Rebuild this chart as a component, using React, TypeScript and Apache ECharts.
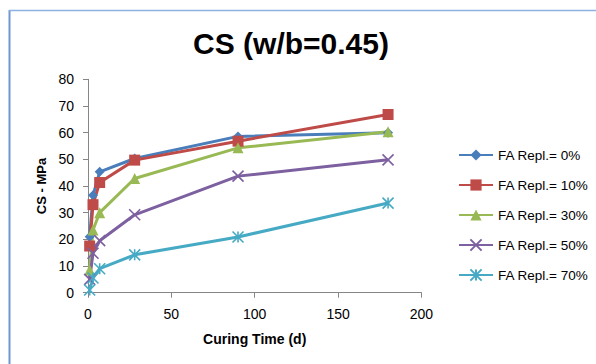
import React, { useEffect, useRef } from "react";
import * as echarts from "echarts";

const days = [1, 3, 7, 28, 90, 180];
const fa0 = [21, 36.5, 45.3, 50.3, 58.6, 60];
const fa10 = [17.5, 33, 41.3, 49.7, 56.8, 66.8];
const fa30 = [8.5, 23.5, 30, 42.8, 54.3, 60.3];
const fa50 = [5, 14.8, 19.5, 29.2, 43.7, 49.8];
const fa70 = [1, 5.5, 9, 14.2, 20.9, 33.6];

const seriesNames = ["FA Repl.= 0%", "FA Repl.= 10%", "FA Repl.= 30%", "FA Repl.= 50%", "FA Repl.= 70%"];
const seriesValues = [fa0, fa10, fa30, fa50, fa70];
const colors = ["#4a7ebb", "#be4b48", "#98b954", "#7d60a0", "#46aac5"];
const symbols = [
  "diamond",
  "rect",
  "triangle",
  "path://M0,0L10,10M10,0L0,10",
  "path://M5,0L5,10M0,0L10,10M10,0L0,10",
];
const symbolSizes = [10, 11, 11, 11, 11];

const titleText = "CS (w/b=0.45)";
const xName = "Curing Time (d)";
const yName = "CS - MPa";

export default function App() {
  const ref = useRef<HTMLDivElement>(null);
  useEffect(() => {
    if (!ref.current) return;
    const chart = echarts.init(ref.current, undefined, { renderer: "svg" });
    const font = "'Liberation Sans', Arial, sans-serif";
    chart.setOption({
      animation: false,
      textStyle: { fontFamily: font },
      graphic: [
        {
          type: "line",
          shape: { x1: 9.5, y1: 10, x2: 9.5, y2: 364 },
          style: { stroke: "#6f98d3", lineWidth: 2 },
        },
        {
          type: "line",
          shape: { x1: 9, y1: 10.5, x2: 596, y2: 10.5 },
          style: { stroke: "#8db3e2", lineWidth: 1.5 },
        },
        {
          type: "text",
          x: 291,
          y: 43,
          style: {
            text: titleText,
            fontFamily: font,
            fontWeight: "bold",
            fontSize: 30,
            fill: "#000",
            textAlign: "center",
            textVerticalAlign: "middle",
          },
        },
      ],
      grid: { left: 88, top: 79.3, width: 333.4, height: 213.4, containLabel: false },
      legend: {
        orient: "vertical",
        left: 458,
        top: 148,
        padding: 0,
        itemWidth: 34,
        itemHeight: 14,
        itemGap: 16,
        textStyle: { fontFamily: font, fontSize: 13.5, color: "#000" },
        data: seriesNames,
      },
      xAxis: {
        type: "value",
        min: 0,
        max: 200,
        interval: 50,
        name: xName,
        nameLocation: "middle",
        nameGap: 39,
        nameTextStyle: { fontFamily: font, fontWeight: "bold", fontSize: 14, color: "#000" },
        axisLine: { lineStyle: { color: "#868686", width: 1 } },
        axisTick: { show: true, inside: false, length: 5, lineStyle: { color: "#868686" } },
        axisLabel: { margin: 14, fontSize: 14, color: "#000", fontFamily: font },
        splitLine: { show: false },
      },
      yAxis: {
        type: "value",
        min: 0,
        max: 80,
        interval: 10,
        name: yName,
        nameLocation: "middle",
        nameGap: 32,
        nameTextStyle: { fontFamily: font, fontWeight: "bold", fontSize: 13, color: "#000" },
        axisLine: { show: true, lineStyle: { color: "#868686", width: 1 } },
        axisTick: { show: true, inside: false, length: 5, lineStyle: { color: "#868686" } },
        axisLabel: { margin: 14, fontSize: 14, color: "#000", fontFamily: font },
        splitLine: { show: false },
      },
      series: seriesNames.map((name, i) => ({
        name,
        type: "line",
        data: days.map((d, j) => [d, seriesValues[i][j]]),
        symbol: symbols[i],
        symbolSize: symbolSizes[i],
        showAllSymbol: true,
        lineStyle: { color: colors[i], width: 3 },
        itemStyle: {
          color: colors[i],
          borderColor: colors[i],
          borderWidth: i >= 3 ? 1.6 : 0,
        },
        emphasis: { disabled: true },
      })),
    });
    return () => chart.dispose();
  }, []);
  return (
    <div
      ref={ref}
      style={{ position: "fixed", left: 0, top: 0, width: 596, height: 364, background: "#fff" }}
    />
  );
}
